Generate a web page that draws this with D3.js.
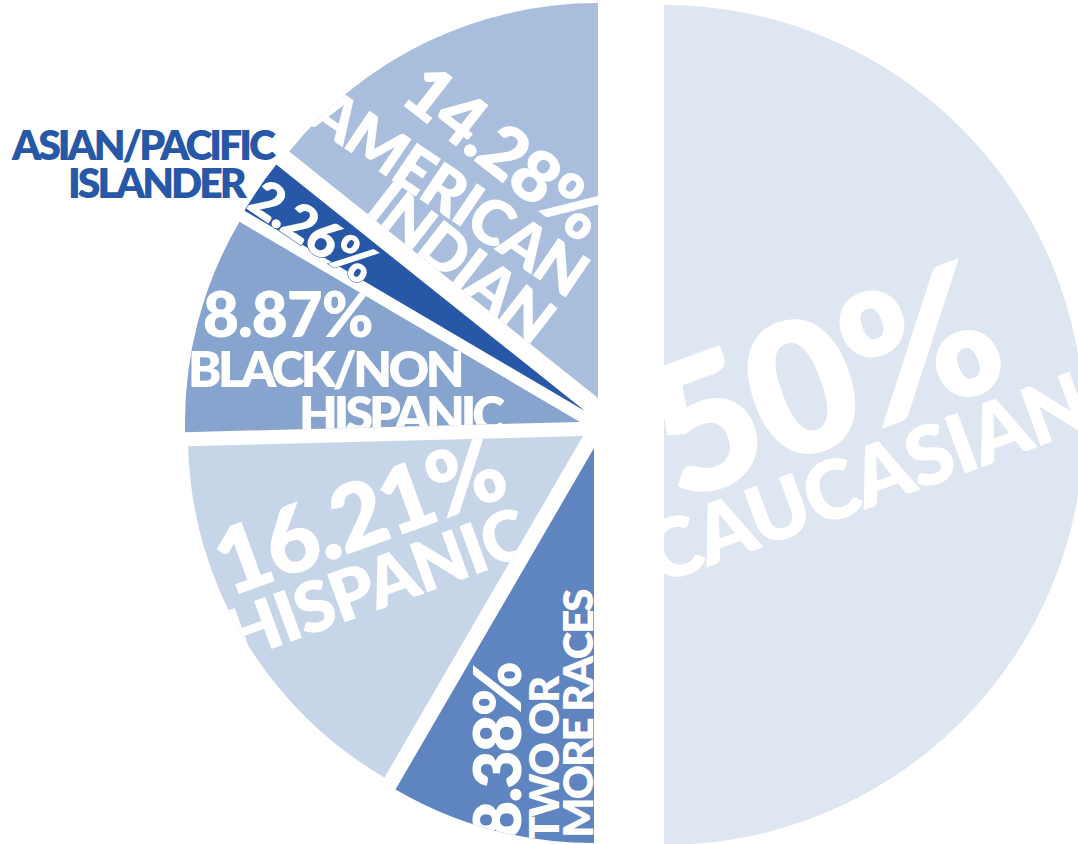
<!DOCTYPE html>
<html><head><meta charset="utf-8">
<script src="https://cdn.jsdelivr.net/npm/d3@7"></script>
<style>html,body{margin:0;padding:0;background:#fff;overflow:hidden}</style>
</head><body>
<svg id="chart" width="1078" height="844"></svg>
<script>
// ---- data ----
const categories = ["Caucasian", "Two or More Races", "Hispanic", "Black/Non Hispanic", "Asian/Pacific Islander", "American Indian"];
const shares = [50, 8.38, 16.21, 8.87, 2.26, 14.28];
const pctLabels = ["50%", "8.38%", "16.21%", "8.87%", "2.26%", "14.28%"];
const nameLabels = [["CAUCASIAN"], ["TWO OR", "MORE RACES"], ["HISPANIC"], ["BLACK/NON", "HISPANIC"], ["ASIAN/PACIFIC", "ISLANDER"], ["AMERICAN", "INDIAN"]];

// ---- style / layout ----
const colors = ["#dee6f2", "#5f85c1", "#c7d5e9", "#87a4cf", "#2757a7", "#a9bddd"];
const base = {x: 600, y: 425};
const radii = [420, 395, 395, 395, 395, 395];
const shift = [[64, 0], [-6, 23], [-17, 11], [-20, -3], [-15, -14], [-2, -27]];
const FONT = "Lato, 'Open Sans', sans-serif";
const WEIGHT = 800;

// label placement: [text, x, y, rotate, size, letterSpacing, mode]  (mode c = centred, s = start/baseline)
const labelLayout = [
  [[pctLabels[0], 822, 380, -20, 184, -4, "c"], [nameLabels[0][0], 866, 478, -20, 82, -1.5, "c"]],
  [[pctLabels[1], 497, 751, -90, 66, -2, "c"], [nameLabels[1][0], 544, 759, -90, 41, -1.2, "c"], [nameLabels[1][1], 578, 714, -90, 42, -2, "c"]],
  [[pctLabels[2], 359, 515, -20, 92, -2, "c"], [nameLabels[2][0], 376, 584, -20, 70, -1.5, "c"]],
  [[pctLabels[3], 203, 337, 0, 62, -1, "s"], [nameLabels[3][0], 188, 387, 0, 50, -3.5, "s"], [nameLabels[3][1], 299, 432, 0, 50, -4, "s"]],
  [[pctLabels[4], 313, 231, 34, 52, -1.5, "c"]],
  [[pctLabels[5], 505, 152, 38, 72, -2, "c"], [nameLabels[5][0], 449, 192, 34, 62, -2, "c"], [nameLabels[5][1], 461, 262, 38, 62, -2, "c"]]
];

const svg = d3.select("#chart");
const data = categories.map((c, i) => ({name: c, share: shares[i], i}));
const pie = d3.pie().sort(null).value(d => d.share).startAngle(0).endAngle(2 * Math.PI);
const arcs = pie(data);
const defs = svg.append("defs");

arcs.forEach(a => {
  const i = a.data.i;
  const arc = d3.arc().innerRadius(0).outerRadius(radii[i]);
  const tx = base.x + shift[i][0], ty = base.y + shift[i][1];
  defs.append("clipPath").attr("id", "clip" + i)
    .append("path").attr("d", arc(a)).attr("transform", `translate(${tx},${ty})`);
  svg.append("path").attr("class", "slice")
    .attr("d", arc(a)).attr("transform", `translate(${tx},${ty})`)
    .attr("fill", colors[i]);
});

function drawLabel(g, spec, extra) {
  const [txt, x, y, rot, size, ls, mode] = spec;
  const t = g.append("text")
    .attr("transform", `translate(${x},${y}) rotate(${rot})`)
    .attr("font-family", FONT).attr("font-weight", WEIGHT)
    .attr("font-size", size).attr("letter-spacing", ls)
    .attr("fill", "#fff")
    .attr("text-anchor", mode === "c" ? "middle" : "start")
    .attr("dy", mode === "c" ? "0.36em" : 0)
    .style("white-space", "pre")
    .text(txt);
  if (extra) extra(t);
  return t;
}

labelLayout.forEach((specs, i) => {
  const g = svg.append("g");
  if (i !== 4) g.attr("clip-path", `url(#clip${i})`);
  specs.forEach(s => drawLabel(g, s, i === 4 ? t => t.attr("stroke", colors[4]).attr("stroke-width", 1).attr("paint-order", "stroke") : null));
});

// outside label for the thin slice
const outside = svg.append("g");
[[nameLabels[4][0], 12, 160], [nameLabels[4][1], 68, 198]].forEach(([txt, x, y]) => {
  outside.append("text").attr("x", x).attr("y", y)
    .attr("font-family", FONT).attr("font-weight", WEIGHT)
    .attr("font-size", 41).attr("letter-spacing", -3)
    .attr("fill", colors[4]).text(txt);
});
</script>
</body></html>
